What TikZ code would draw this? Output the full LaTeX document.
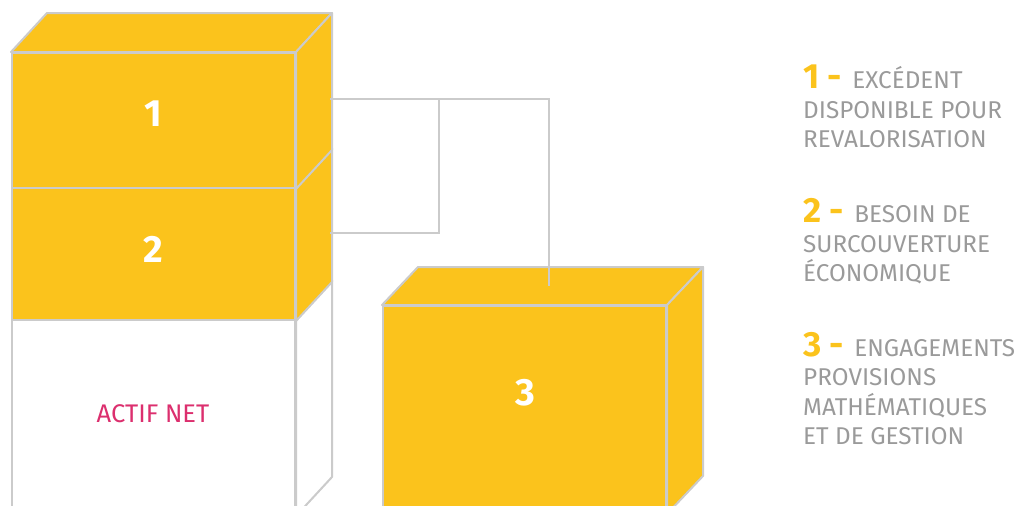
\documentclass[tikz,border=0pt]{standalone}
\usepackage{fontspec}
\setmainfont{Fira Sans}
\usetikzlibrary{calc}
\definecolor{boxyellow}{HTML}{FBC31C}
\definecolor{edgegray}{HTML}{CBCBCB}
\definecolor{legendgray}{HTML}{9A9A9A}
\definecolor{actifpink}{HTML}{DC2F6E}
\tikzset{
  face/.style={fill=boxyellow, draw=edgegray, line width=2pt, line join=round},
  whiteface/.style={fill=white, draw=edgegray, line width=2pt, line join=round},
  frontbox/.style={face, anchor=north west, inner sep=0pt, minimum width=283pt},
  conn/.style={draw=edgegray, line width=2pt},
  boxnum/.style={text=white, font=\bfseries\fontsize{38}{38}\selectfont},
  legline/.style={anchor=base west, inner sep=0pt, text=legendgray, font=\fontsize{24.3}{24}\selectfont},
}
\newcommand{\legnum}[1]{{\color{boxyellow}\fontsize{35}{35}\selectfont\bfseries #1\hspace{4pt}}}
\begin{document}
\begin{tikzpicture}[x=1pt,y=-1pt]
\useasboundingbox (0,0) rectangle (1031,506);
\clip (0,0) rectangle (1031,506);
% left stack
\node[frontbox, whiteface, minimum height=195pt] (b0) at (11,319) {};
\draw[whiteface] (b0.north east) -- ++(36,-39) -- ($(b0.south east)+(36,-39)$) -- (b0.south east) -- cycle;
\node[actifpink, font=\fontsize{25.5}{25}\selectfont] (actif) at (153,414) {ACTIF NET};
\node[frontbox, minimum height=132pt] (b2) at (11,187) {};
\draw[face] (b2.north east) -- ++(36,-39) -- ($(b2.south east)+(36,-39)$) -- (b2.south east) -- cycle;
\node[boxnum] (n2) at (153,249) {2};
\node[frontbox, minimum height=135pt] (b1) at (11,52) {};
\draw[face] (b1.north west) -- ++(36,-39) -- ($(b1.north east)+(36,-39)$) -- (b1.north east) -- cycle;
\draw[face] (b1.north east) -- ++(36,-39) -- ($(b1.south east)+(36,-39)$) -- (b1.south east) -- cycle;
\node[boxnum] (n1) at (153,114) {1};
% box 3
\node[frontbox, minimum height=207pt] (b3) at (382,305) {};
\draw[face] (b3.north west) -- ++(36,-38) -- ($(b3.north east)+(36,-38)$) -- (b3.north east) -- cycle;
\draw[face] (b3.north east) -- ++(36,-38) -- ($(b3.south east)+(36,-38)$) -- (b3.south east) -- cycle;
\node[boxnum] (n3) at (525,393) {3};
% connectors
\coordinate (s1) at (330,99);
\coordinate (s2) at (330,233);
\coordinate (t3) at (549,286);
\coordinate (j) at (439,99);
\draw[conn] (s1) -| (t3);
\draw[conn] (s2) -| (j);
% legend
\node[legline] (l1a) at (803,88) {\legnum{1 -} EXCÉDENT};
\node[legline] (l1b) at (803,118) {DISPONIBLE POUR};
\node[legline] (l1c) at (803,147) {REVALORISATION};
\node[legline] (l2a) at (803,222) {\legnum{2 -} BESOIN DE};
\node[legline] (l2b) at (803,252) {SURCOUVERTURE};
\node[legline] (l2c) at (803,281) {ÉCONOMIQUE};
\node[legline] (l3a) at (803,356) {\legnum{3 -} ENGAGEMENTS};
\node[legline] (l3b) at (803,385) {PROVISIONS};
\node[legline] (l3c) at (803,415) {MATHÉMATIQUES};
\node[legline] (l3d) at (803,444) {ET DE GESTION};
\end{tikzpicture}
\end{document}
